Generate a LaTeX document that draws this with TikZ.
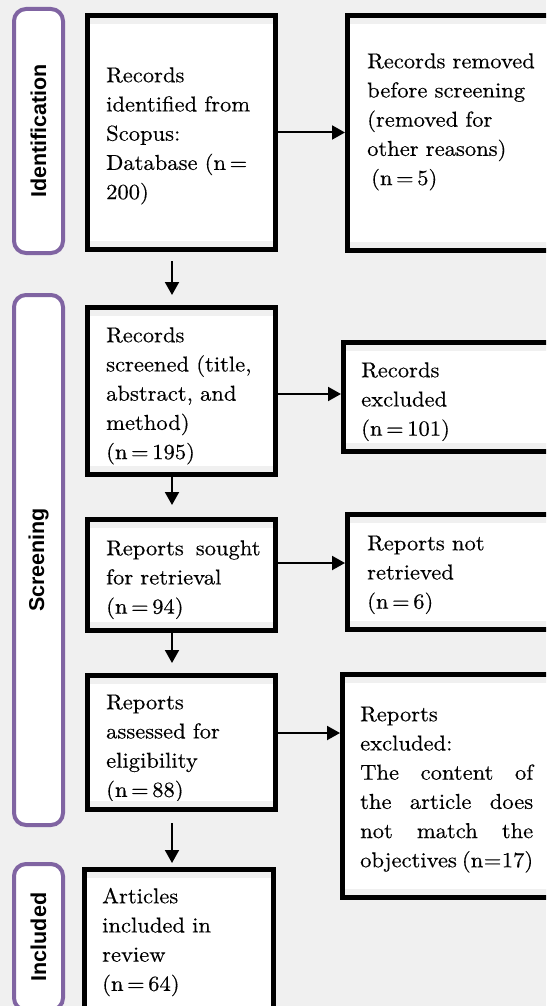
\documentclass[tikz,border=0pt]{standalone}
\usepackage{fontspec}
\setmainfont{lmroman10-regular.otf}[FakeStretch=1.05,FakeBold=0.4]
\newfontfamily\labfont{Liberation Sans}
\usetikzlibrary{arrows.meta}
\definecolor{bg}{HTML}{F0F0F0}
\definecolor{purp}{HTML}{8064A2}
\begin{document}
\begin{tikzpicture}[x=1pt,y=-1pt,
  pbox/.style={draw=black,line width=5pt,fill=white,inner sep=0pt,anchor=north west},
  lab/.style={draw=purp,line width=4pt,fill=white,rounded corners=12pt,inner sep=0pt,anchor=north west},
  labtxt/.style={font=\labfont\bfseries\fontsize{21.5}{24}\selectfont,rotate=90,inner sep=0pt},
  txt/.style={font=\fontsize{21.5}{29.2}\selectfont,inner sep=0pt,anchor=north west,text width=#1,align=left},
  txt/.default=200pt,
  arr/.style={line width=2pt,-{Triangle[width=14pt,length=13pt]}}]
\useasboundingbox (0,0) rectangle (546,1006);
\clip (0,0) rectangle (546,1006);
\fill[bg] (0,0) rectangle (546,1006);

% phase labels
\node[lab,minimum width=49pt,minimum height=244pt] (ident) at (12,7) {};
\node[lab,minimum width=49pt,minimum height=530pt] (screen) at (12,293) {};
\node[lab,minimum width=49pt,minimum height=146pt] (incl) at (12,862) {};
\node[labtxt] (l1) at (ident.center) {Identification};
\node[labtxt] (l2) at (screen.center) {Screening};
\node[labtxt] (l3) at (incl.center) {Included};

% boxes
\node[pbox,minimum width=188pt,minimum height=234pt] (b1) at (85,13) {};
\node[pbox,minimum width=215pt,minimum height=235pt] (b2) at (345,13) {};
\node[pbox,minimum width=188pt,minimum height=167pt] (b3) at (85,305) {};
\node[pbox,minimum width=219pt,minimum height=109pt] (rex) at (341,340) {};
\node[pbox,minimum width=188pt,minimum height=111pt] (b4) at (85,517) {};
\node[pbox,minimum width=215pt,minimum height=115pt] (rnr) at (345,512) {};
\node[pbox,minimum width=188pt,minimum height=134pt] (b5) at (85,673) {};
\node[pbox,minimum width=220pt,minimum height=223pt] (rexc) at (340,672) {};
\node[pbox,minimum width=189pt,minimum height=158pt] (b6) at (82,867) {};

% texts
\node[txt] (t1) at (106,61.6) {\strut Records\\identified from\\Scopus:\\Database (n\,=\\200)};
\node[txt] (t2) at (367,47.6) {\strut Records removed\\before screening\\(removed for\\other reasons)\\\hspace*{4pt}(n\,=\,5)};
\node[txt] (t3) at (106,321.6) {\strut Records\\screened (title,\\abstract, and\\method)\\(n\,=\,195)};
\node[txt] (t4) at (361,356.6) {\strut Records\\excluded\\(n\,=\,101)};
\node[txt] (t5) at (106,534.6) {\strut Reports\hspace{12pt}sought\\for retrieval\\(n\,=\,94)};
\node[txt] (t6) at (367,529.6) {\strut Reports not\\retrieved\\(n\,=\,6)};
\node[txt] (t7) at (106,688.6) {\strut Reports\\assessed for\\eligibility\\(n\,=\,88)};
\node[txt=173pt,align=justify] (t8) at (360,700.6) {\strut Reports\\excluded:\\The\hfill content\hfill of\\the\hfill article\hfill does\\not\hfill match\hfill the\\objectives\hspace{2pt plus 1fill}(n\kern0.5pt=\kern0.5pt17)};
\node[txt] (t9) at (102,882.6) {\strut Articles\\included in\\review\\(n\,=\,64)};

% inner grey bands
\foreach \n in {b1,b2,b3,rex,b4,rnr,b5,rexc,b6} {
  \fill[bg] ([xshift=5pt,yshift=-5pt]\n.north west) rectangle ([xshift=-5pt,yshift=-11pt]\n.north east);
  \fill[bg] ([xshift=5pt,yshift=5pt]\n.south west) rectangle ([xshift=-5pt,yshift=11pt]\n.south east);
}

% arrows
\coordinate (a1s) at (172,261);
\coordinate (a1e) at (172,295);
\coordinate (a2e) at (172,505);
\coordinate (a3e) at (172,663);
\coordinate (a4s) at (172,823);
\coordinate (a4e) at (172,863);
\draw[arr] (a1s) -- (a1e);
\draw[arr] (b3.south -| a2e) -- (a2e);
\draw[arr] (b4.south -| a3e) -- (a3e);
\draw[arr] (a4s) -- (a4e);
\draw[arr] (b1.east) -- (b1.east -| b2.west);
\draw[arr] ([yshift=-3pt]b3.east) -- ([yshift=-3pt]b3.east -| rex.west);
\draw[arr] ([yshift=12pt]b4.east) -- ([yshift=12pt]b4.east -| rnr.west);
\draw[arr] ([yshift=9.5pt]b5.east) -- ([yshift=9.5pt]b5.east -| rexc.west);
\end{tikzpicture}
\end{document}
